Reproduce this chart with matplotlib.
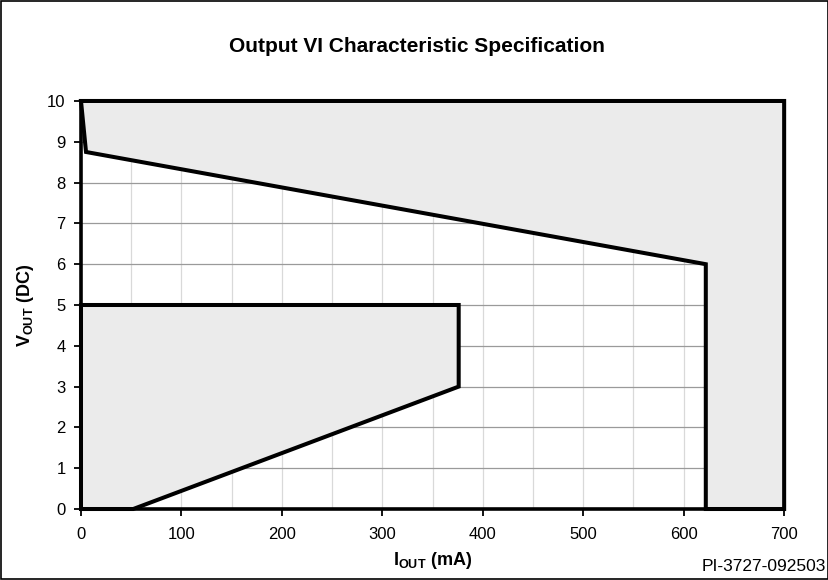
import numpy as np
import matplotlib
matplotlib.use("Agg")
import matplotlib.pyplot as plt
from matplotlib.patches import Rectangle

plt.rcParams['font.family'] = ['Liberation Sans', 'DejaVu Sans']
plt.rcParams['mathtext.fontset'] = 'custom'
plt.rcParams['mathtext.rm'] = 'Liberation Sans'
plt.rcParams['mathtext.bf'] = 'Liberation Sans:bold'

# outer (upper) limit of the VI envelope, mA / V
upper_i = [0, 5, 622, 622, 700, 700]
upper_v = [10, 8.75, 6.0, 0, 0, 10]
# inner (lower) limit
lower_i = [0, 376, 376, 52, 0]
lower_v = [5, 5, 3, 0, 0]

x_ticks = [0, 100, 200, 300, 400, 500, 600, 700]
y_ticks = list(range(0, 11))

fig = plt.figure(figsize=(8.29, 5.8), dpi=100)
ax = fig.add_axes([0.0977, 0.1224, 0.8482, 0.7035])

# grid
for xv in np.arange(50, 700, 50):
    ax.axvline(xv, color='#d9d9d9', linewidth=0.9, zorder=0)
for yv in y_ticks[1:]:
    ax.axhline(yv, color='#9a9a9a', linewidth=0.9, zorder=0)

for xs, ys in [(upper_i, upper_v), (lower_i, lower_v)]:
    p = ax.fill(xs, ys, facecolor='#ebebeb', edgecolor='black', linewidth=2.9,
                joinstyle='miter', zorder=2)
    p[0].set_clip_on(False)

ax.set_xlim(0, 700)
ax.set_ylim(0, 10)
ax.set_xticks(x_ticks)
ax.set_yticks(y_ticks)
ax.tick_params(direction='out', length=5, width=1.3, labelsize=12)
ax.tick_params(axis='x', pad=8)
ax.tick_params(axis='y', pad=6)
for s in ['top', 'right']:
    ax.spines[s].set_visible(False)
for s in ['left', 'bottom']:
    ax.spines[s].set_linewidth(2.6)
    ax.spines[s].set_zorder(3)

fig.text(0.503, 1 - 47 / 580, 'Output VI Characteristic Specification', fontsize=15,
         fontweight='bold', ha='center', va='center')
ax.set_xlabel(r'$\mathbf{I_{OUT}}$ (mA)', fontsize=13, fontweight='bold', labelpad=6)
ax.set_ylabel(r'$\mathbf{V_{OUT}}$ (DC)', fontsize=13, fontweight='bold', labelpad=8)

fig.text(0.996, 0.01, 'PI-3727-092503', ha='right', va='bottom', fontsize=12.5)

fig.patches.append(Rectangle((0.001, 0.001), 0.998, 0.997, transform=fig.transFigure,
                             fill=False, edgecolor='black', linewidth=1.2))

fig.savefig('out.png', dpi=100)
